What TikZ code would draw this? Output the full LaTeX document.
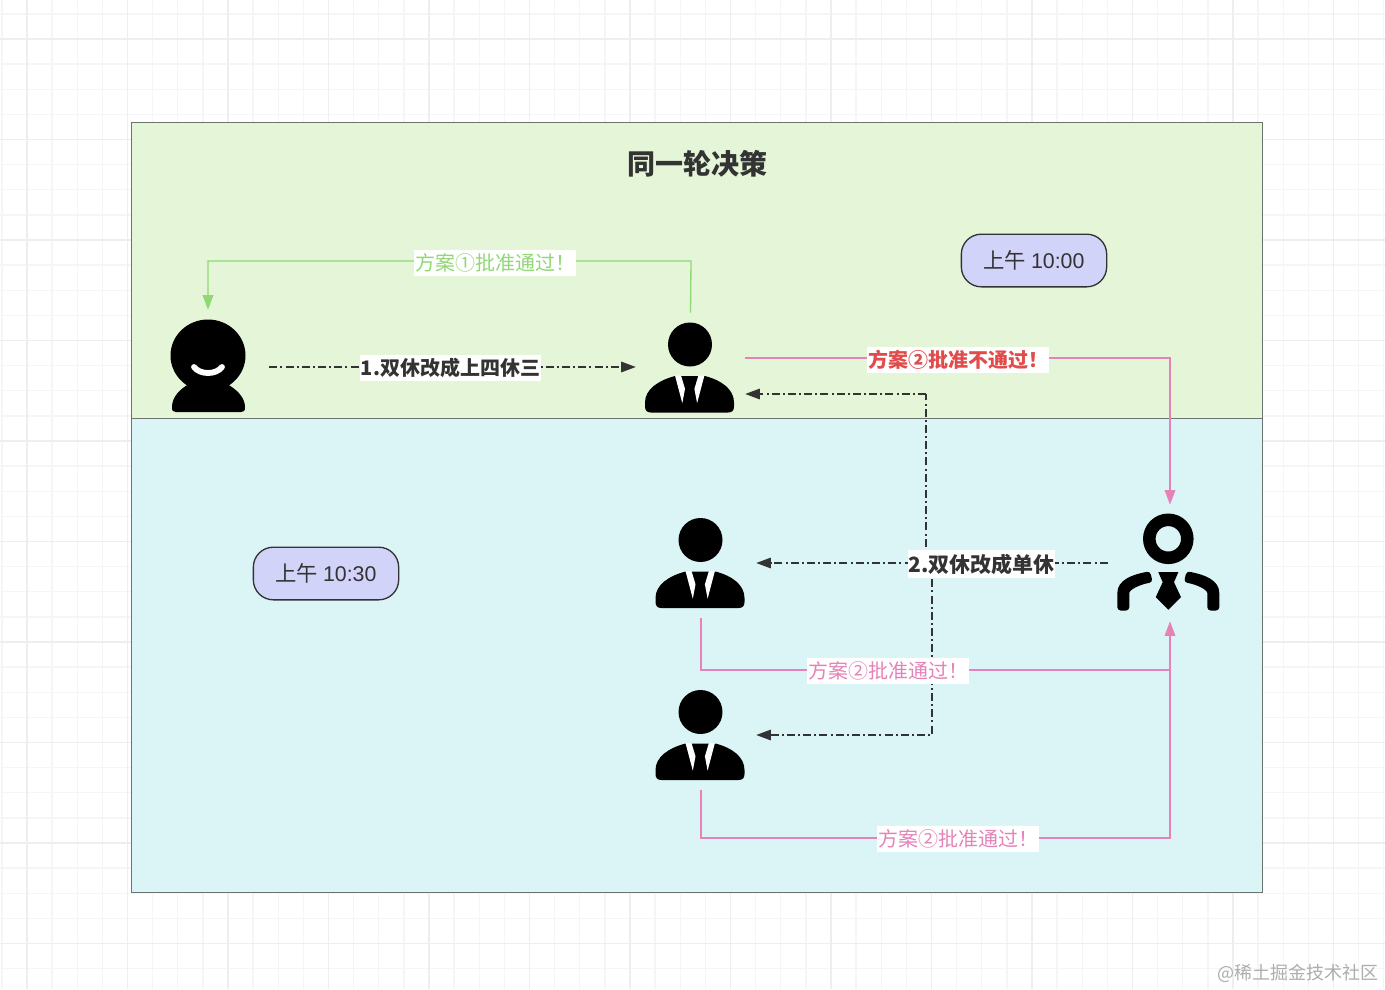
\documentclass[tikz,border=0pt]{standalone}
\usepackage{fontspec}
\setmainfont{Noto Sans CJK SC}
\newfontfamily\latinpart{Liberation Sans}
\usetikzlibrary{arrows.meta}
\definecolor{gridminor}{HTML}{F5F5F5}
\definecolor{gridmajor}{HTML}{EEEEEE}
\definecolor{lanegreen}{HTML}{E5F5D8}
\definecolor{lanecyan}{HTML}{DBF5F6}
\definecolor{laneline}{HTML}{6B7570}
\definecolor{pillfill}{HTML}{D2D3F8}
\definecolor{ink}{HTML}{333333}
\definecolor{okgreen}{HTML}{8FD873}
\definecolor{okpink}{HTML}{E582B8}
\definecolor{nored}{HTML}{E24B4B}
\tikzset{
  lane/.style={draw=laneline,line width=0.7pt},
  pill/.style={draw=ink,fill=pillfill,rounded corners=15pt,line width=1pt,minimum width=109pt,minimum height=39.5pt,inner sep=0pt,text=ink,font=\fontsize{16pt}{18pt}\selectfont},
  iconbox/.style={inner sep=0pt,minimum width=#1*0.75pt},
  flowlabel/.style={fill=white,inner xsep=0.5pt,inner ysep=0pt,minimum height=19.5pt,font=\fontsize{15pt}{18pt}\selectfont},
  boldlabel/.style={flowlabel,font=\fontsize{15pt}{18pt}\selectfont\bfseries},
  dashplain/.style={draw=ink,line width=0.85pt,dash pattern=on 6pt off 2.3pt on 1.5pt off 2.4pt},
  dashline/.style={dashplain,-{Triangle[length=11pt,width=8pt]}},
  greenline/.style={draw=okgreen,line width=1pt,-{Triangle[length=11pt,width=8pt]}},
  pinkline/.style={draw=okpink,line width=1pt,-{Triangle[length=11pt,width=8pt]}},
  bossicon/.pic={
    \fill[black] (0,-23) circle[radius=22];
    \fill[black] (-45,35) .. controls (-45,22) and (-32,13) .. (-15,8.5) -- (15,8.5) .. controls (32,13) and (44,22) .. (44,35) -- (44,39) .. controls (44,43) and (42,45) .. (38,45) -- (-39,45) .. controls (-43,45) and (-45,43) .. (-45,39) -- cycle;
    \fill[white] (-15,8) -- (-9,8) -- (-5,21.3) -- (-7.7,35.7) -- cycle;
    \fill[white] (14.4,8) -- (8.4,8) -- (4.4,21.3) -- (7.1,35.7) -- cycle;
  },
  usericon/.pic={
    \fill[black] (0,-11.5) ellipse[x radius=37.5,y radius=36];
    \fill[black] (-36,40) .. controls (-36,30) and (-28,22) .. (-19,17) -- (19,17) .. controls (28,22) and (37,30) .. (37,40) .. controls (37,44) and (36,45) .. (33,45) -- (-32,45) .. controls (-35,45) and (-36,44) .. (-36,40) -- cycle;
    \draw[white,line width=4.4pt,line cap=round] (-14,0) .. controls (-8,8) and (8,8) .. (14,0);
  },
  managericon/.pic={
    \draw[black,line width=9.4pt] (0.3,-24.7) circle[radius=19];
    \fill[black] (-9.7,8.7) -- (10.3,8.7) -- (6,18.7) -- (13,33.7) -- (0.3,46.3) -- (-12.3,33.7) -- (-5.3,18.7) -- cycle;
    \fill[black,rounded corners=2.5pt] (-18,7.7) .. controls (-35,11) and (-50.7,16) .. (-50.7,33) -- (-50.7,47) -- (-38.7,47) -- (-38.7,33) .. controls (-38.7,26) and (-28,21) .. (-15.3,18.7) -- cycle;
    \fill[black,rounded corners=2.5pt] (18.6,7.7) .. controls (35.6,11) and (51.3,16) .. (51.3,33) -- (51.3,47) -- (39.3,47) -- (39.3,33) .. controls (39.3,26) and (28.6,21) .. (15.9,18.7) -- cycle;
  }
}
\begin{document}
\begin{tikzpicture}[x=0.75pt,y=-0.75pt]
\useasboundingbox (0,0) rectangle (1385,989);
\fill[white] (0,0) rectangle (1385,989);
% background grid
\foreach \k in {0,...,55} {
  \pgfmathsetmacro{\gx}{1.9+25.125*\k}
  \draw[gridminor,line width=1pt] (\gx,0) -- (\gx,989);
}
\foreach \k in {0,...,39} {
  \pgfmathsetmacro{\gy}{13.9+25.125*\k}
  \draw[gridminor,line width=1pt] (0,\gy) -- (1385,\gy);
}
\foreach \k in {0,...,13} {
  \pgfmathsetmacro{\gx}{27+100.5*\k}
  \draw[gridmajor,line width=1pt] (\gx,0) -- (\gx,989);
}
\foreach \k in {0,...,9} {
  \pgfmathsetmacro{\gy}{39+100.5*\k}
  \draw[gridmajor,line width=1pt] (0,\gy) -- (1385,\gy);
}
% swimlanes
\draw[lane,fill=lanegreen] (131,122) rectangle (1262,418);
\draw[lane,fill=lanecyan] (131,418) rectangle (1262,892);
\node[font=\fontsize{21pt}{24pt}\selectfont\bfseries,text=ink,inner sep=0pt] (title) at (697,164) {同一轮决策};
\node[pill] (t1) at (1034,260.5) {上午 {\latinpart 10:00}};
\node[pill] (t2) at (326,573.5) {上午 {\latinpart 10:30}};
% icons
\node[iconbox=122,minimum height=85.5pt] (user) at (208,367) {};
\node[iconbox=109,minimum height=81pt] (boss1) at (690.5,367) {};
\node[iconbox=112,minimum height=82.5pt] (boss2) at (700,563) {};
\node[iconbox=112,minimum height=82.5pt] (boss3) at (700,735) {};
\node[iconbox=124,minimum height=87pt] (mgr) at (1170,563) {};
\pic at (user) {usericon};
\pic at (690,367.5) {bossicon};
\pic at (700.5,563) {bossicon};
\pic at (700.5,735) {bossicon};
\pic at (1168,563.5) {managericon};
% connectors
\coordinate (g1) at (691,261);
\coordinate (g2) at (208,261);
\draw[greenline] (boss1.north) -- (g1) -- (g2) -- (user.north);
\draw[dashline] (user.east) -- (boss1.west);
\coordinate (p1) at (1170,358);
\draw[pinkline] ([yshift=6.75pt]boss1.east) -- (p1) -- (mgr.north);
\coordinate (d1) at (926,563);
\coordinate (d2) at (926,394);
\coordinate (d3) at (932,563);
\coordinate (d4) at (932,735);
\draw[dashplain] (d1) -- (d2);
\draw[dashline] (d2) -- ([yshift=-20.25pt]boss1.east);
\draw[dashline] (mgr.west) -- (boss2.east);
\draw[dashline] (d3) -- (d4) -- (boss3.east);
\coordinate (q1) at (701,670);
\coordinate (q2) at (1170,670);
\coordinate (r1) at (701,838);
\coordinate (r2) at (1170,838);
\draw[draw=okpink,line width=1pt] (boss2.south) ++(1,0) -- (q1) -- (q2);
\draw[pinkline] (boss3.south) ++(1,0) -- (r1) -- (r2) -- (mgr.south);
% labels
\node[flowlabel,text=okgreen] (l1) at (495,262.5) {方案①批准通过！};
\node[boldlabel,text=ink] (l2) at (450.5,368) {1.双休改成上四休三};
\node[boldlabel,text=nored] (l3) at (958,360) {方案②批准不通过！};
\node[boldlabel,text=ink,minimum height=21.5pt,font=\fontsize{15.75pt}{18pt}\selectfont\bfseries] (l4) at (981.5,564) {2.双休改成单休};
\node[flowlabel,text=okpink] (l5) at (888,671) {方案②批准通过！};
\node[flowlabel,text=okpink] (l6) at (958,839) {方案②批准通过！};
\node[text=black!32,inner sep=0pt,anchor=east,font=\fontsize{13.5pt}{16pt}\selectfont] (wm) at (1379,973) {@稀土掘金技术社区};
\end{tikzpicture}
\end{document}
